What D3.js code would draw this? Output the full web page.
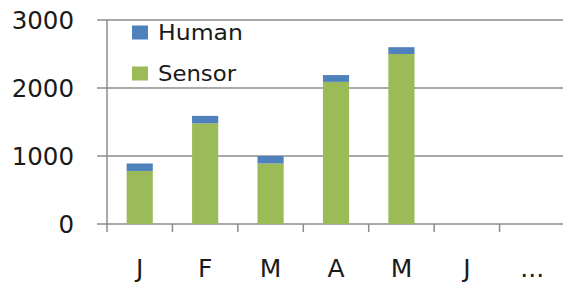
<!DOCTYPE html>
<html><head><meta charset="utf-8">
<script src="https://cdn.jsdelivr.net/npm/d3@7"></script>
<style>body{margin:0;background:#fff}svg{display:block}</style>
</head><body>
<svg id="c" width="563" height="288"></svg>
<script>
const categories = ["J","F","M","A","M ","J ","..."];
const sensor = [780, 1480, 890, 2090, 2500, 0, 0];
const human  = [110, 110, 110, 100, 100, 0, 0];
const yTicks = [0, 1000, 2000, 3000];
const seriesNames = ["Human","Sensor"];
const colors = {Human:"#4F81BD", Sensor:"#9BBB59"};

const svg = d3.select("#c");
const x = d3.scaleBand().domain(categories).range([107, 565]).paddingInner(0.6).paddingOuter(0.3);
const xEdges = d3.scaleLinear().domain([0, categories.length]).range([107, 565]);
const y = d3.scaleLinear().domain([0, 3000]).range([224, 20]);
const font = "'DejaVu Sans', Verdana, sans-serif";

// gridlines
svg.append("g").selectAll("line").data(yTicks).join("line")
  .attr("x1", 97).attr("x2", 563)
  .attr("y1", d => y(d)).attr("y2", d => y(d))
  .attr("stroke", "#8c8c8c").attr("stroke-width", 1.5);

// y axis line
svg.append("line").attr("x1",107).attr("x2",107).attr("y1",y(3000)).attr("y2",y(0)+8)
  .attr("stroke","#8c8c8c").attr("stroke-width",1.5);

// x ticks at band edges
svg.append("g").selectAll("line").data(d3.range(1, categories.length)).join("line")
  .attr("x1", d => xEdges(d)).attr("x2", d => xEdges(d))
  .attr("y1", y(0)).attr("y2", y(0)+8)
  .attr("stroke","#8c8c8c").attr("stroke-width",1.5);

// y labels
svg.append("g").selectAll("text").data(yTicks).join("text")
  .attr("x", 74).attr("y", d => y(d)).attr("dy","0.36em")
  .attr("text-anchor","end").attr("font-family",font).attr("font-size",24.5)
  .attr("fill","#1a1a1a").text(d => d);

// x labels
svg.append("g").selectAll("text").data(categories).join("text")
  .attr("x", d => x(d) + x.bandwidth()/2).attr("y", 277)
  .attr("text-anchor","middle").attr("font-family",font).attr("font-size",25)
  .attr("fill","#1a1a1a").text(d => d.trim());

// stacked bars
const rows = categories.map((c,i) => ({cat:c, Sensor:sensor[i], Human:human[i]}));
const stack = d3.stack().keys(["Sensor","Human"])(rows);
svg.append("g").selectAll("g").data(stack).join("g")
  .attr("fill", s => colors[s.key])
  .selectAll("rect").data(s => s).join("rect")
  .attr("x", d => x(d.data.cat)).attr("width", x.bandwidth())
  .attr("y", d => y(d[1])).attr("height", d => y(d[0]) - y(d[1]));

// legend
const leg = svg.append("g");
const legY = [32.5, 73.5];
seriesNames.forEach((n,i) => {
  leg.append("rect").attr("x",132).attr("y",legY[i]-7).attr("width",16).attr("height",14).attr("fill",colors[n]);
  leg.append("text").attr("x",158).attr("y",legY[i]).attr("dy","0.36em")
    .attr("font-family",font).attr("font-size",21).attr("fill","#1a1a1a")
    .attr("textLength", i===0?85:78).attr("lengthAdjust","spacingAndGlyphs").text(n);
});
</script>
</body></html>
